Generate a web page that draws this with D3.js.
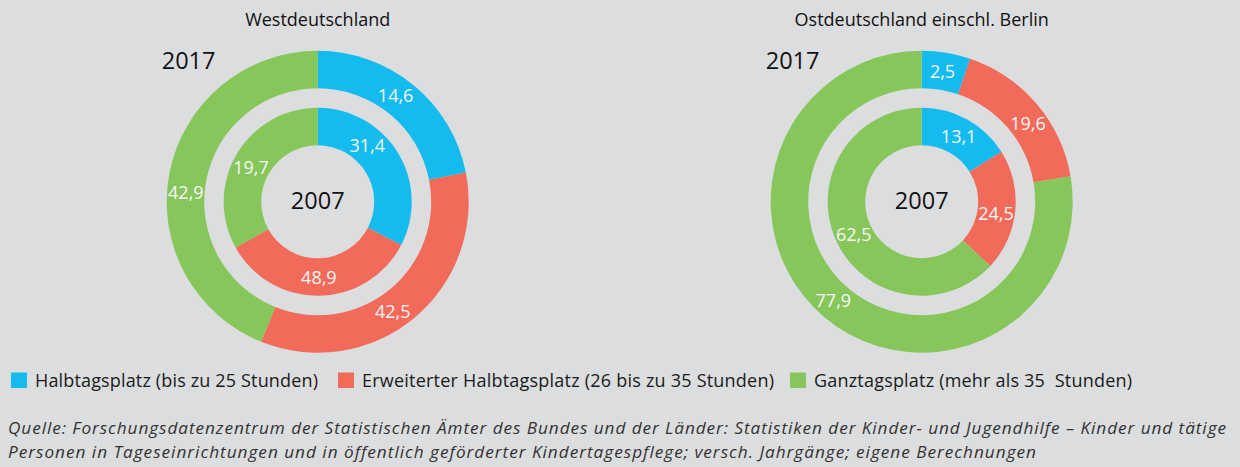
<!DOCTYPE html>
<html><head><meta charset="utf-8">
<script src="https://cdn.jsdelivr.net/npm/d3@7"></script>
<style>
html,body{margin:0;padding:0;background:#dcdddf;}
svg{display:block;font-family:"Open Sans",sans-serif;}
</style></head>
<body><svg id="c" width="1240" height="467"></svg>
<script>
// ---- data ----
const categories = ["Halbtagsplatz (bis zu 25 Stunden)", "Erweiterter Halbtagsplatz (26 bis zu 35 Stunden)", "Ganztagsplatz (mehr als 35  Stunden)"];
const regions = ["Westdeutschland", "Ostdeutschland einschl. Berlin"];
const years = ["2007", "2017"];
// printed values (labels)
const west2007Labels = [31.4, 48.9, 19.7];
const west2017Labels = [14.6, 42.5, 42.9];
const east2007Labels = [13.1, 24.5, 62.5];
const east2017Labels = [2.5, 19.6, 77.9];
// segment shares as drawn in the picture (percent of the ring)
const west2007Shares = [32.6, 34.3, 33.1];
const west2017Shares = [21.9, 34.2, 43.9];
const east2007Shares = [16.1, 20.9, 63.0];
const east2017Shares = [5.2, 17.1, 77.7];
const sourceLines = [
  "Quelle: Forschungsdatenzentrum der Statistischen Ämter des Bundes und der Länder: Statistiken der Kinder- und Jugendhilfe – Kinder und tätige",
  "Personen in Tageseinrichtungen und in öffentlich geförderter Kindertagespflege; versch. Jahrgänge; eigene Berechnungen"
];
// label angular nudges (degrees)
const westInnerNudge = [-17.5, 0, -2.8];
const westOuterNudge = [-3.3, 5, -6.7];
const eastInnerNudge = [0.4, 3.3, -2];
const eastOuterNudge = [-0.3, 4, 1.8];

const colors = ["#13bbee", "#f26a5a", "#87c65b"];
const fmt = v => d3.format(".1f")(v).replace(".", ",");

const svg = d3.select("#c");
const color = d3.scaleOrdinal().domain(d3.range(3)).range(colors);
const pie = d3.pie().sort(null).value(d => d.share);

const R = {outer: [113.5, 151], inner: [56.5, 94]};
const panels = [
  {title: regions[0], cx: 317.7, cy: 201.8,
   inner: {shares: west2007Shares, labels: west2007Labels, nudge: westInnerNudge},
   outer: {shares: west2017Shares, labels: west2017Labels, nudge: westOuterNudge}},
  {title: regions[1], cx: 921.7, cy: 201.7,
   inner: {shares: east2007Shares, labels: east2007Labels, nudge: eastInnerNudge},
   outer: {shares: east2017Shares, labels: east2017Labels, nudge: eastOuterNudge}}
];

panels.forEach(p => {
  const g = svg.append("g").attr("transform", `translate(${p.cx},${p.cy})`);
  ["inner", "outer"].forEach(ring => {
    const spec = p[ring];
    const [r0, r1] = R[ring];
    const arc = d3.arc().innerRadius(r0).outerRadius(r1);
    const arcs = pie(spec.shares.map((s, i) => ({share: s, label: spec.labels[i], i})));
    g.selectAll(null).data(arcs).enter().append("path")
      .attr("d", arc).attr("fill", d => color(d.data.i));
    const rm = (r0 + r1) / 2;
    const ang = d => (d.startAngle + d.endAngle) / 2 + spec.nudge[d.data.i] * Math.PI / 180;
    g.selectAll(null).data(arcs).enter().append("text")
      .attr("x", d => rm * Math.sin(ang(d)))
      .attr("y", d => -rm * Math.cos(ang(d)))
      .attr("text-anchor", "middle").attr("dominant-baseline", "central")
      .attr("fill", "#f6f6f6").attr("font-size", 18)
      .text(d => fmt(d.data.label));
  });
  g.append("text").attr("x", 0).attr("y", -2).attr("text-anchor", "middle").attr("dominant-baseline", "central")
    .attr("font-size", 23.5).attr("fill", "#111").text(years[0]);
  g.append("text").attr("x", -156).attr("y", -142).attr("dominant-baseline", "central")
    .attr("font-size", 23.5).attr("fill", "#111").text(years[1]);
  svg.append("text").attr("x", p.cx).attr("y", 25.7).attr("text-anchor", "middle")
    .attr("font-size", 18).attr("fill", "#111").text(p.title);
});

// fit a text element to a target width by adjusting letter spacing
function fit(sel, w) {
  const n = sel.text().length;
  const cur = sel.node().getComputedTextLength();
  sel.attr("letter-spacing", ((w - cur) / Math.max(1, n - 1)).toFixed(3));
}

// legend
const legX = [11, 338, 790];
const legW = [283, 412, 318];
const leg = svg.append("g");
categories.forEach((c, i) => {
  leg.append("rect").attr("x", legX[i]).attr("y", 372.5).attr("width", 16).attr("height", 15.5).attr("fill", color(i));
  const t = leg.append("text").attr("x", legX[i] + 24).attr("y", 386.7)
    .attr("font-size", 18).attr("fill", "#1a1a1a").style("white-space", "pre").text(c);
  fit(t, legW[i]);
});

// source
const srcW = [1218, 1028];
sourceLines.forEach((s, i) => {
  const t = svg.append("text").attr("x", 8).attr("y", 434.3 + i * 24).attr("font-size", 17.2)
    .attr("font-style", "italic").attr("fill", "#333").text(s);
  fit(t, srcW[i]);
});
</script></body></html>
